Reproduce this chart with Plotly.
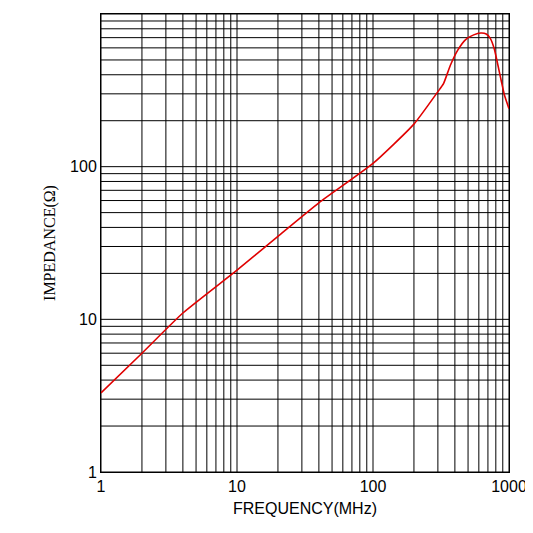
import plotly.graph_objects as go

freq = [1, 2, 4, 10, 20, 40, 100, 200, 300, 330, 370, 420, 480, 550, 620, 680, 730, 780, 830, 880, 930, 1000]
imped = [3.3, 6, 11, 21, 35, 58, 105, 190, 310, 350, 460, 580, 680, 730, 750, 740, 690, 590, 460, 360, 290, 240]

grid = [m * 10 ** e for e in range(3) for m in range(1, 10)] + [1000]

fig = go.Figure(go.Scatter(x=freq, y=imped, mode="lines", line=dict(color="#e00000", width=1.6, shape="spline", smoothing=0.5)))

axis = dict(type="log", showline=True, linecolor="black", linewidth=1, mirror=True, automargin=False,
            showgrid=False, ticks="", tickfont=dict(family="Arial", size=16, color="black"),
            tickvals=[1, 10, 100, 1000], ticktext=["1", "10", "100", "1000"], zeroline=False)
fig.update_xaxes(range=[0, 3], title=dict(text="FREQUENCY(MHz)", font=dict(family="Arial", size=16, color="black"), standoff=8), **axis)
fig.update_yaxes(range=[0, 3], title=dict(text="IMPEDANCE(Ω)", font=dict(family="Times New Roman, Liberation Serif", size=16, color="black"), standoff=10), **axis)

for g in grid:
    fig.add_vline(x=g, line=dict(color="black", width=1), layer="below")
    fig.add_hline(y=g, line=dict(color="black", width=1), layer="below")

fig.update_layout(width=533, height=533, margin=dict(l=93, r=32, t=6, b=69),
                  plot_bgcolor="white", paper_bgcolor="white", showlegend=False)
fig.write_html("out.html")
